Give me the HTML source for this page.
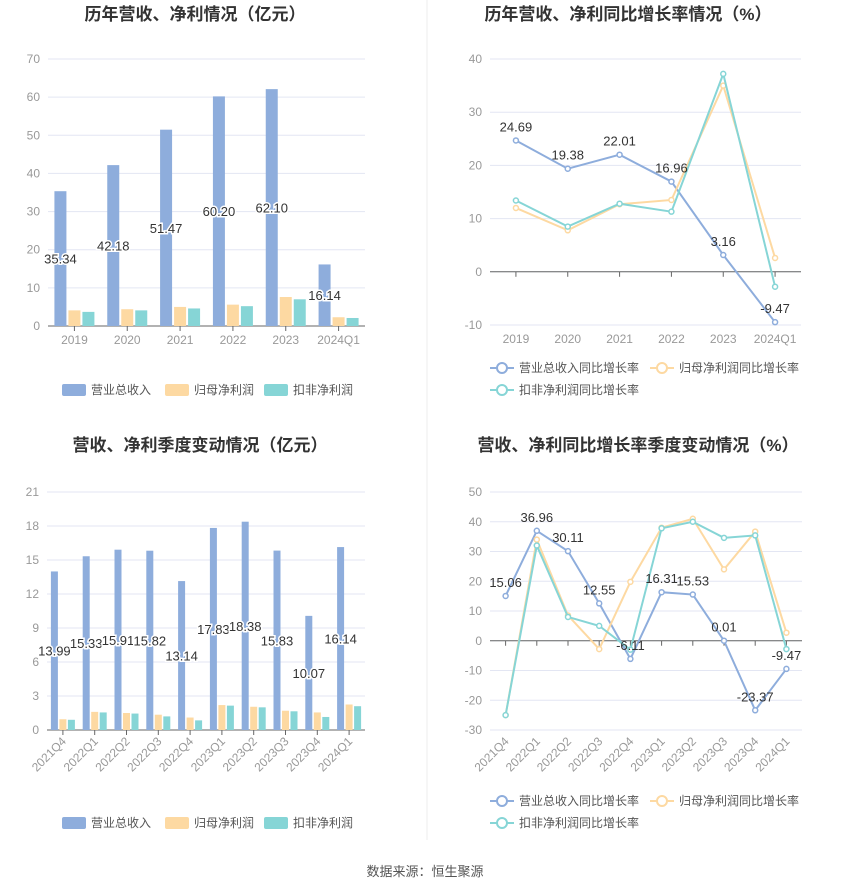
<!DOCTYPE html>
<html><head><meta charset="utf-8"><style>
body{margin:0;background:#fff;font-family:"Liberation Sans","Noto Sans CJK SC",sans-serif;}
svg text{font-family:"Liberation Sans","Noto Sans CJK SC",sans-serif;}
</style></head><body>
<svg id="s" width="850" height="891" xmlns="http://www.w3.org/2000/svg">
<line x1="427" y1="0" x2="427" y2="840" stroke="#eee"/>
<text x="195" y="20" text-anchor="middle" font-size="17" font-weight="bold" fill="#333">历年营收、净利情况（亿元）</text>
<text x="628" y="20" text-anchor="middle" font-size="17" font-weight="bold" fill="#333">历年营收、净利同比增长率情况（%）</text>
<text x="200" y="451" text-anchor="middle" font-size="17" font-weight="bold" fill="#333">营收、净利季度变动情况（亿元）</text>
<text x="638" y="451" text-anchor="middle" font-size="17" font-weight="bold" fill="#333">营收、净利同比增长率季度变动情况（%）</text>
<text x="425" y="876" text-anchor="middle" font-size="13" fill="#555">数据来源：恒生聚源</text>
</svg>
<script>
const yearCats=["2019","2020","2021","2022","2023","2024Q1"];
const yearRevenue=[35.34,42.18,51.47,60.20,62.10,16.14];
const yearNet=[4.1,4.4,5.0,5.6,7.6,2.3];
const yearDeducted=[3.7,4.1,4.6,5.2,7.0,2.1];
const yearTicks=[0,10,20,30,40,50,60,70];
const yearRevGrowth=[24.69,19.38,22.01,16.96,3.16,-9.47];
const yearNetGrowth=[12.0,7.8,12.7,13.5,35.0,2.6];
const yearDedGrowth=[13.4,8.5,12.8,11.3,37.2,-2.8];
const growthTicks=[-10,0,10,20,30,40];
const qCats=["2021Q4","2022Q1","2022Q2","2022Q3","2022Q4","2023Q1","2023Q2","2023Q3","2023Q4","2024Q1"];
const qRevenue=[13.99,15.33,15.91,15.82,13.14,17.83,18.38,15.83,10.07,16.14];
const qNet=[0.95,1.6,1.5,1.35,1.1,2.2,2.05,1.7,1.55,2.25];
const qDeducted=[0.9,1.55,1.45,1.2,0.85,2.15,2.0,1.65,1.15,2.1];
const qTicks=[0,3,6,9,12,15,18,21];
const qRevGrowth=[15.06,36.96,30.11,12.55,-6.11,16.31,15.53,0.01,-23.37,-9.47];
const qNetGrowth=[-25,34,8.5,-2.8,19.8,38,41,24,36.7,2.7];
const qDedGrowth=[-25,32,8,5,-3,37.8,40,34.6,35.4,-2.8];
const qGrowthTicks=[-30,-20,-10,0,10,20,30,40,50];

const NS="http://www.w3.org/2000/svg";const S=document.getElementById('s');
const C={blue:"#8eaddc",orange:"#fdd9a2",teal:"#86d5d6"};
function el(t,a,txt){const e=document.createElementNS(NS,t);for(const k in a)e.setAttribute(k,a[k]);if(txt!==undefined)e.textContent=txt;S.appendChild(e);return e;}
function axes(x0,x1,yTop,yBot,ticks,cats,rot,pfx){
  const mn=ticks[0],mx=ticks[ticks.length-1];
  const y=v=>yBot-(v-mn)/(mx-mn)*(yBot-yTop);
  const bw=(x1-x0)/cats.length;const x=i=>x0+bw*(i+0.5);
  ticks.forEach(t=>{
    const g=el('line',{x1:x0,x2:x1,y1:y(t),y2:y(t),stroke:"#e3e6f3"});
    
    const l=el('text',{x:x0-8,y:y(t)+4,'text-anchor':'end','font-size':12,fill:'#999'},t);
    
  });
  const z=el('line',{x1:x0,x2:x1,y1:y(Math.max(0,mn)),y2:y(Math.max(0,mn)),stroke:"#666"});
  
  cats.forEach((c,i)=>{
    const tk=el('line',{x1:x(i),x2:x(i),y1:y(Math.max(0,mn)),y2:y(Math.max(0,mn))+5,stroke:"#666"});
    
    let t;
    if(rot){const ly=yBot+12;t=el('text',{x:x(i)+4,y:ly,'text-anchor':'end','font-size':12,fill:'#999',transform:`rotate(-45 ${x(i)+4} ${ly})`},c);}
    else t=el('text',{x:x(i),y:yBot+18,'text-anchor':'middle','font-size':12,fill:'#999'},c);
    
  });
  return {x,y,bw};
}
function bars(ax,series,w,off,pfx,labelVals){
  series.forEach((s,si)=>{s.vals.forEach((v,i)=>{
    const r=el('rect',{x:ax.x(i)+off[si]-w/2,y:ax.y(v),width:w,height:ax.y(0)-ax.y(v),fill:s.c});
    
  });});
  labelVals.forEach((v,i)=>{
    const t=el('text',{x:ax.x(i)+off[0],y:(ax.y(v)+ax.y(0))/2+5,'text-anchor':'middle','font-size':13,fill:'#333',stroke:'#fff','stroke-width':3,'paint-order':'stroke'},v.toFixed(2));
    
  });
}
function lines(ax,series,pfx){
  series.forEach(s=>{
    const p=el('polyline',{points:s.vals.map((v,i)=>ax.x(i)+','+ax.y(v)).join(' '),fill:'none',stroke:s.c,'stroke-width':2});
    
    s.vals.forEach((v,i)=>{const c=el('circle',{cx:ax.x(i),cy:ax.y(v),r:2.5,fill:'#fff',stroke:s.c,'stroke-width':1.5});
      });
  });
  series[0].vals.forEach((v,i)=>{const t=el('text',{x:ax.x(i),y:ax.y(v)-9,'text-anchor':'middle','font-size':13,fill:'#333'},v.toFixed(2));
    });
}
function barLegend(y,pfx){
  [["营业总收入",C.blue,62],["归母净利润",C.orange,165],["扣非净利润",C.teal,264]].forEach(([n,c,x])=>{
    const r=el('rect',{x:x,y:y-6,width:24,height:12,rx:2,fill:c});
    const t=el('text',{x:x+29,y:y+4,'font-size':12,fill:'#555'},n);
  });
}
function lineLegend(y,pfx){
  [["营业总收入同比增长率",C.blue,490,y],["归母净利润同比增长率",C.orange,650,y],["扣非净利润同比增长率",C.teal,490,y+22]].forEach(([n,c,x,yy])=>{
    const l=el('line',{x1:x,x2:x+24,y1:yy,y2:yy,stroke:c,'stroke-width':2});
    const ci=el('circle',{cx:x+12,cy:yy,r:5,fill:'#fff',stroke:c,'stroke-width':2});
    const t=el('text',{x:x+29,y:yy+4,'font-size':12,fill:'#555'},n);
  });
}
const a1=axes(48,365,59,326,yearTicks,yearCats,false,'annual');
bars(a1,[{n:'revenue',vals:yearRevenue,c:C.blue},{n:'net',vals:yearNet,c:C.orange},{n:'deducted',vals:yearDeducted,c:C.teal}],12,[-14,0,14],'annual',yearRevenue);
barLegend(390,'annual');
const a2=axes(490,801,59,325,growthTicks,yearCats,false,'annual-growth');
lines(a2,[{n:'revenue',vals:yearRevGrowth,c:C.blue},{n:'net',vals:yearNetGrowth,c:C.orange},{n:'deducted',vals:yearDedGrowth,c:C.teal}],'annual-growth');
lineLegend(368,'annual-growth');
const a3=axes(47,365,492,730,qTicks,qCats,true,'quarterly');
bars(a3,[{n:'revenue',vals:qRevenue,c:C.blue},{n:'net',vals:qNet,c:C.orange},{n:'deducted',vals:qDeducted,c:C.teal}],7,[-8.5,0,8.5],'quarterly',qRevenue);
barLegend(823,'quarterly');
const a4=axes(490,802,492,730,qGrowthTicks,qCats,true,'quarterly-growth');
lines(a4,[{n:'revenue',vals:qRevGrowth,c:C.blue},{n:'net',vals:qNetGrowth,c:C.orange},{n:'deducted',vals:qDedGrowth,c:C.teal}],'quarterly-growth');
lineLegend(801,'quarterly-growth');
</script>
</body></html>
